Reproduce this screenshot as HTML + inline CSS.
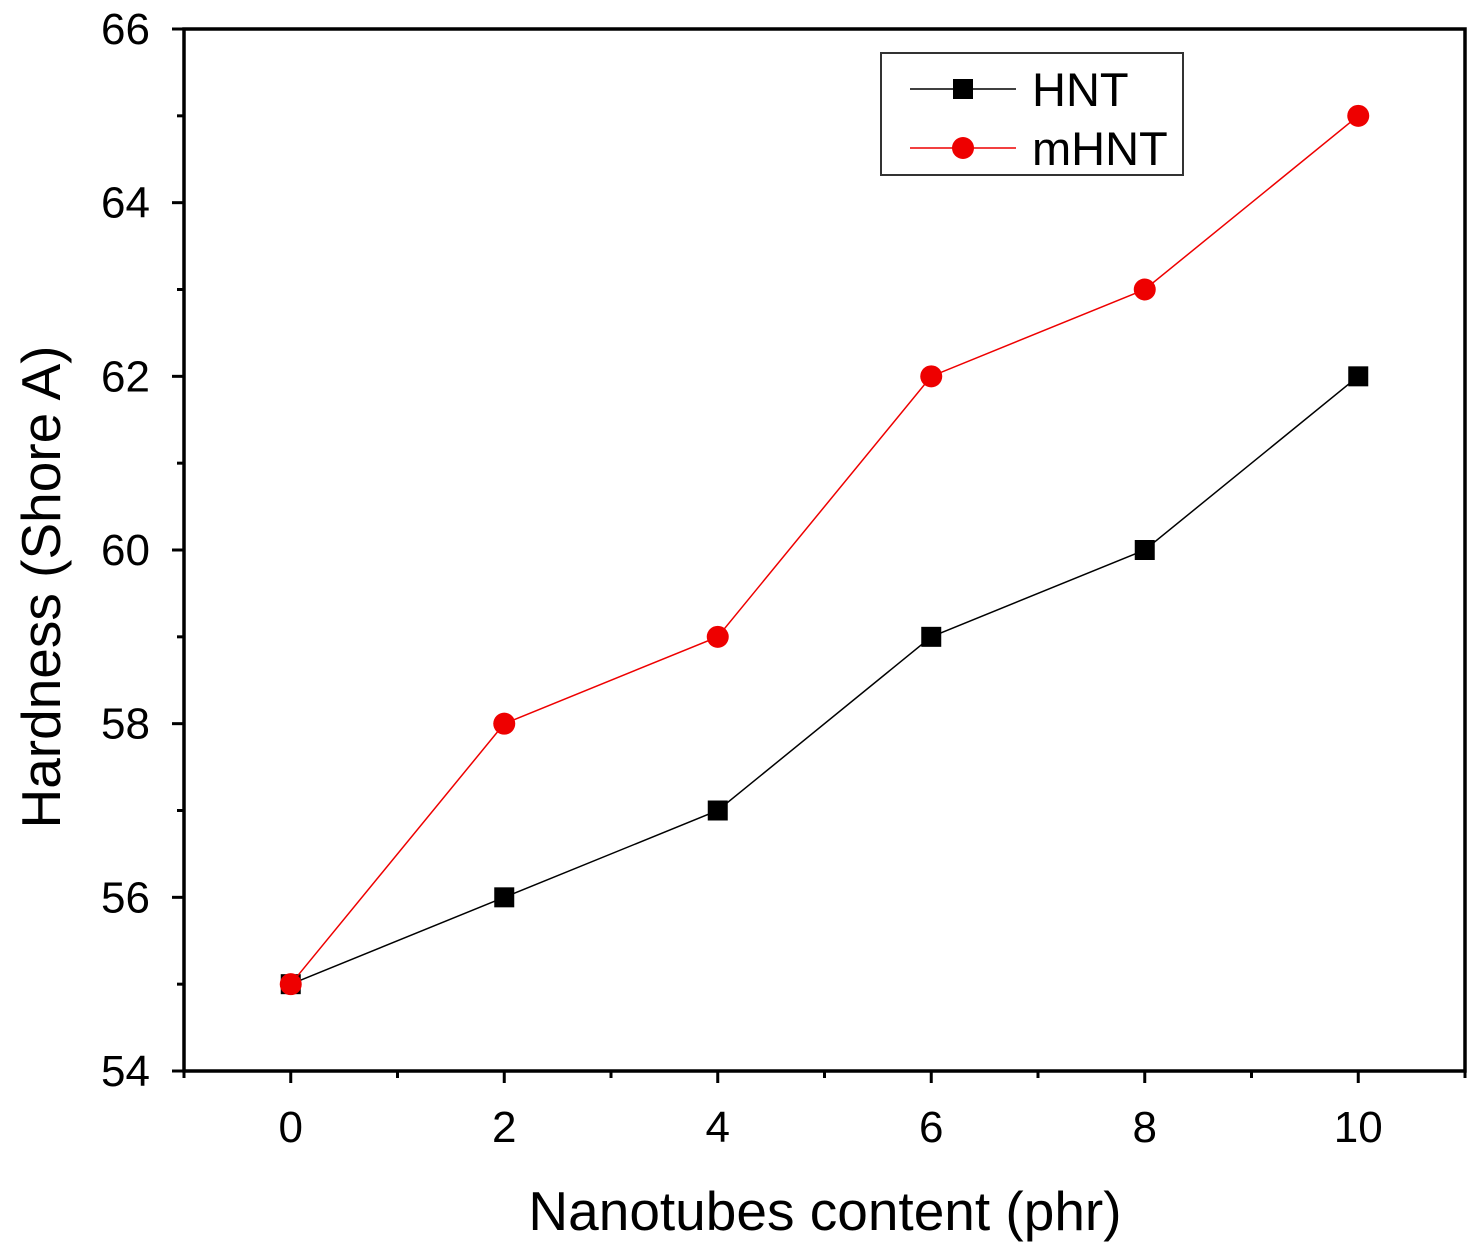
<!DOCTYPE html>
<html><head><meta charset="utf-8"><style>
body{margin:0;background:#fff;}
svg{display:block;font-family:"Liberation Sans",Arial,sans-serif;}
</style></head><body>
<svg id="chart" width="1476" height="1260" viewBox="0 0 1476 1260"></svg>
<script>
const categories=[0,2,4,6,8,10];
const hntValues=[55,56,57,59,60,62];
const mhntValues=[55,58,59,62,63,65];
const xTicks=[0,2,4,6,8,10];
const yTicks=[54,56,58,60,62,64,66];

const L=184,R=1465,T=29,B=1071,xmin=-1,xmax=11,ymin=54,ymax=66;
const sx=v=>L+(v-xmin)/(xmax-xmin)*(R-L);
const sy=v=>B-(v-ymin)/(ymax-ymin)*(B-T);
const svg=document.getElementById('chart');
const NS='http://www.w3.org/2000/svg';
function mk(t,a,p){const e=document.createElementNS(NS,t);for(const k in a)e.setAttribute(k,a[k]);(p||svg).appendChild(e);return e;}

let e;
e=mk('rect',{x:L,y:T,width:R-L,height:B-T,fill:'none',stroke:'#000','stroke-width':3.5});



const xg=mk('g',{});


for(let v=xmin;v<=xmax;v++){
  const major=(v%2===0);
  mk('line',{x1:sx(v),x2:sx(v),y1:B,y2:B+(major?12:7),stroke:'#000','stroke-width':3},xg);
}
xTicks.forEach(v=>{
  const t=mk('text',{x:sx(v),y:1142,'font-size':44,'text-anchor':'middle'},xg);
  t.textContent=v;
  
  
});
const yg=mk('g',{});


for(let v=ymin;v<=ymax;v++){
  const major=(v%2===0);
  mk('line',{x1:L,x2:L-(major?12:7),y1:sy(v),y2:sy(v),stroke:'#000','stroke-width':3},yg);
}
yTicks.forEach(v=>{
  const t=mk('text',{x:150,y:sy(v)+15,'font-size':44,'text-anchor':'end'},yg);
  t.textContent=v;
  
  
});
e=mk('text',{x:825,y:1230,'font-size':55,'text-anchor':'middle'});
e.textContent='Nanotubes content (phr)';


e=mk('text',{x:0,y:0,'font-size':55,'text-anchor':'middle',transform:'translate(60,587) rotate(-90)'});
e.textContent='Hardness (Shore A)';



function series(vals,color,shape,name){
  const g=mk('g',{});
  
  
  mk('polyline',{points:categories.map((c,i)=>sx(c)+','+sy(vals[i])).join(' '),fill:'none',stroke:color,'stroke-width':1.5},g);
  categories.forEach((c,i)=>{
    let m;
    if(shape==='square')m=mk('rect',{x:sx(c)-10,y:sy(vals[i])-10,width:20,height:20,fill:color},g);
    else m=mk('circle',{cx:sx(c),cy:sy(vals[i]),r:11,fill:color},g);
    
    
  });
}
series(hntValues,'#000','square','hnt');
series(mhntValues,'#ee0000','circle','mhnt');

const lg=mk('g',{});


mk('rect',{x:881,y:53,width:302,height:122,fill:'#fff',stroke:'#333','stroke-width':2},lg);
mk('line',{x1:910,x2:1016,y1:89,y2:89,stroke:'#000','stroke-width':1.5},lg);
mk('rect',{x:953,y:79,width:20,height:20,fill:'#000'},lg);
e=mk('text',{x:1032,y:106,'font-size':47},lg);e.textContent='HNT';


mk('line',{x1:910,x2:1016,y1:148,y2:148,stroke:'#ee0000','stroke-width':1.5},lg);
mk('circle',{cx:963,cy:148,r:11,fill:'#ee0000'},lg);
e=mk('text',{x:1032,y:165,'font-size':47},lg);e.textContent='mHNT';


</script>
</body></html>
